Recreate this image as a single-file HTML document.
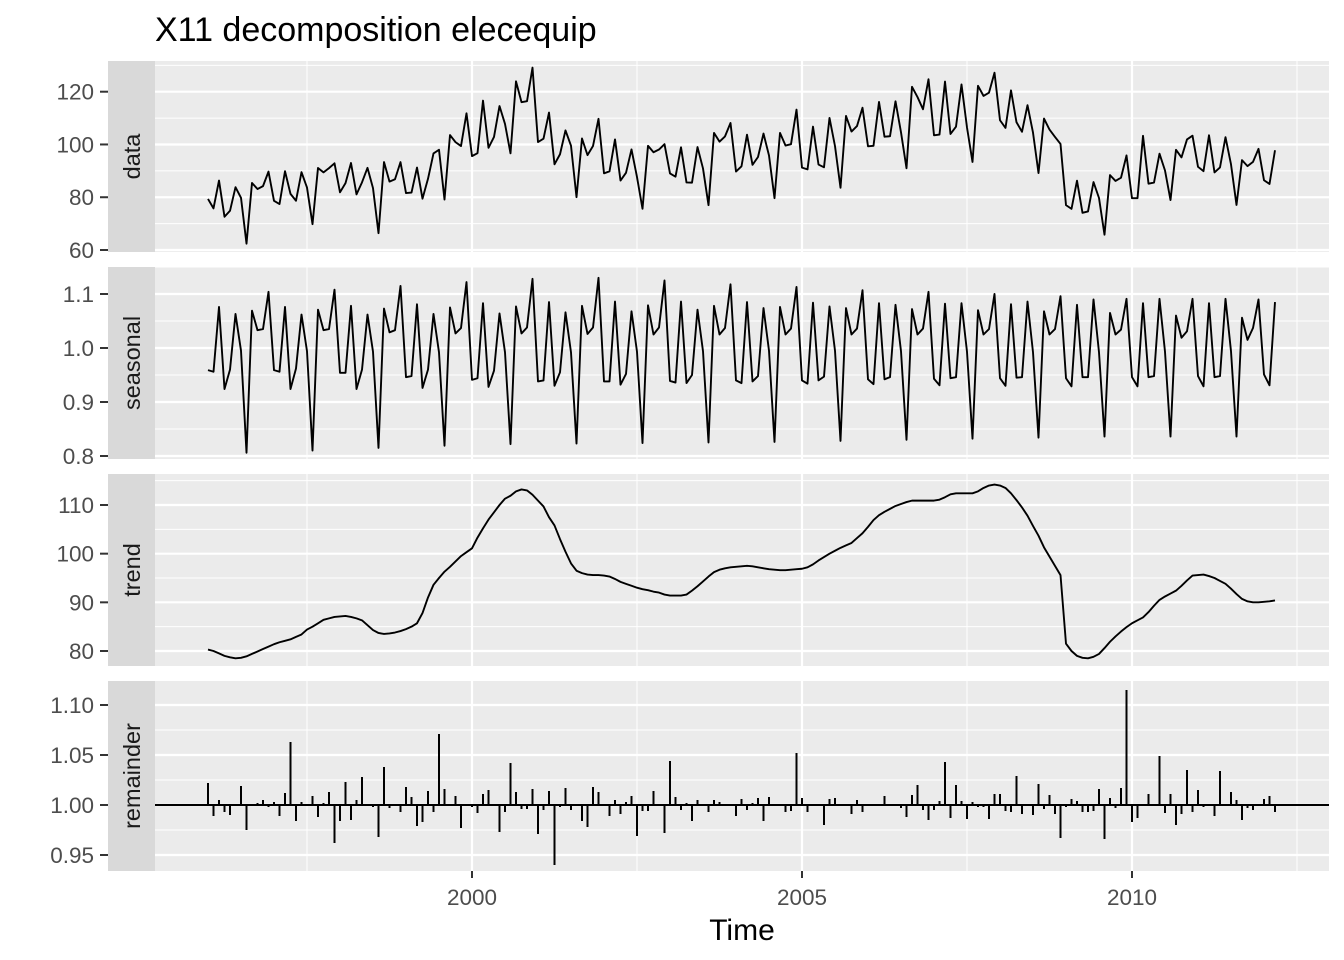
<!DOCTYPE html>
<html><head><meta charset="utf-8"><title>X11 decomposition elecequip</title>
<style>
html,body{margin:0;padding:0;background:#fff;}
svg{display:block;font-family:"Liberation Sans",Arial,sans-serif;}
</style></head>
<body>
<svg id="chart" width="1344" height="960" viewBox="0 0 1344 960" xmlns="http://www.w3.org/2000/svg">
<text x="155" y="41" font-size="34" fill="#000">X11 decomposition elecequip</text>
<text x="742" y="940" font-size="30" fill="#000" text-anchor="middle">Time</text>
</svg>
<script>
const startYear = 1996;
const dataValues = [
79.35,75.78,86.32,72.60,74.86,83.81,79.80,62.41,85.41,83.11,84.21,89.70,
78.64,77.42,89.86,81.27,78.68,89.51,83.67,69.80,91.09,89.43,91.04,92.87,
81.87,85.36,92.98,81.09,85.64,91.14,83.46,66.37,93.34,85.93,86.81,93.30,
81.59,81.77,91.24,79.45,86.99,96.60,97.99,79.13,103.56,100.89,99.40,111.80,
95.59,96.70,116.61,98.75,102.86,114.57,107.79,96.65,123.92,116.03,116.39,129.12,
100.93,102.17,112.08,92.47,96.29,105.33,99.54,80.02,102.26,95.96,99.40,109.73,
89.06,89.82,101.92,86.32,89.25,98.12,87.64,75.64,99.50,97.04,98.09,100.12,
89.02,87.79,98.92,85.60,85.54,99.00,90.91,77.01,104.38,101.07,103.06,108.15,
89.73,91.74,103.70,92.28,95.25,104.13,95.82,79.65,104.38,99.59,100.10,113.20,
91.22,90.55,106.76,92.39,91.35,110.05,99.37,83.60,110.80,104.90,106.98,113.92,
99.32,99.51,116.11,102.93,103.12,116.37,104.61,90.99,121.85,117.97,113.36,124.72,
103.48,103.77,123.83,103.97,106.74,122.73,106.44,93.37,122.23,118.41,119.63,127.19,
109.18,106.28,120.50,108.41,104.82,114.87,104.50,89.18,109.81,105.63,102.86,100.20,
77.00,75.59,86.26,74.08,74.61,85.73,79.71,65.79,88.38,86.18,87.40,95.83,
79.63,79.65,103.29,85.14,85.56,96.50,90.13,78.94,97.99,95.10,101.91,103.32,
91.53,89.89,103.49,89.41,91.31,102.77,92.46,77.08,94.06,91.79,93.40,98.34,
86.44,85.04,97.80];
const seasonalValues = [
.959,.956,1.076,.924,.960,1.063,.995,.806,1.069,1.033,1.035,1.104,
.959,.956,1.076,.924,.962,1.062,.994,.810,1.071,1.033,1.035,1.108,
.954,.954,1.078,.924,.960,1.062,.993,.815,1.073,1.029,1.033,1.115,
.946,.948,1.081,.926,.960,1.063,.992,.819,1.075,1.027,1.037,1.122,
.941,.944,1.083,.928,.958,1.064,.992,.822,1.077,1.027,1.038,1.128,
.938,.940,1.085,.930,.955,1.066,.992,.823,1.078,1.026,1.038,1.130,
.938,.938,1.086,.932,.952,1.068,.993,.824,1.079,1.025,1.038,1.125,
.939,.936,1.086,.935,.950,1.071,.994,.825,1.078,1.025,1.037,1.118,
.940,.935,1.085,.938,.948,1.074,.995,.826,1.076,1.025,1.036,1.113,
.940,.934,1.084,.940,.947,1.077,.995,.828,1.074,1.025,1.036,1.107,
.942,.933,1.083,.942,.946,1.080,.994,.830,1.072,1.025,1.036,1.104,
.943,.931,1.082,.944,.946,1.083,.993,.832,1.070,1.025,1.035,1.100,
.944,.930,1.081,.945,.946,1.086,.992,.834,1.068,1.025,1.035,1.096,
.944,.929,1.080,.946,.946,1.090,.992,.836,1.065,1.025,1.034,1.091,
.946,.929,1.083,.946,.948,1.091,.993,.836,1.060,1.019,1.031,1.091,
.948,.929,1.083,.946,.948,1.091,.994,.836,1.056,1.015,1.037,1.090,
.951,.931,1.085];
const trendValues = [
80.3,80.0,79.5,79.0,78.7,78.5,78.6,78.9,79.4,79.9,80.4,80.9,
81.4,81.8,82.1,82.4,82.9,83.4,84.4,85.0,85.7,86.4,86.7,87.0,
87.1,87.2,87.0,86.7,86.3,85.3,84.3,83.7,83.5,83.6,83.8,84.1,
84.5,85.0,85.7,87.8,91.0,93.6,95.0,96.3,97.3,98.4,99.5,100.3,
101.1,103.3,105.2,107.0,108.5,110.0,111.3,111.9,112.8,113.2,113.0,112.1,
110.9,109.7,107.5,105.8,103.0,100.4,98.0,96.5,96.0,95.7,95.6,95.6,
95.5,95.3,94.8,94.2,93.8,93.4,93.0,92.7,92.5,92.2,92.0,91.6,
91.4,91.4,91.4,91.6,92.4,93.3,94.3,95.3,96.2,96.7,97.0,97.2,
97.3,97.4,97.5,97.4,97.2,97.0,96.8,96.7,96.6,96.6,96.7,96.8,
96.9,97.2,97.8,98.6,99.3,100.0,100.6,101.2,101.7,102.2,103.2,104.2,
105.5,106.9,107.9,108.6,109.2,109.8,110.2,110.6,110.9,110.9,110.9,110.9,
110.9,111.1,111.6,112.2,112.4,112.4,112.4,112.4,112.8,113.5,114.0,114.2,
114.0,113.5,112.4,111.0,109.5,107.8,105.7,103.7,101.3,99.4,97.5,95.6,
81.5,80.0,79.0,78.6,78.5,78.8,79.4,80.6,81.9,83.0,84.0,84.9,
85.7,86.3,86.9,88.0,89.3,90.5,91.2,91.8,92.4,93.4,94.5,95.5,
95.6,95.7,95.4,95.0,94.4,93.8,92.8,91.7,90.7,90.2,90.0,90.0,
90.1,90.2,90.4];
const remainderValues = [
1.022,0.989,1.005,0.993,0.990,1.000,1.019,0.975,1.000,1.002,1.005,0.998,
1.003,0.989,1.012,1.063,0.984,1.003,1.000,1.009,0.988,1.002,1.013,0.962,
0.984,1.023,0.985,1.005,1.028,1.000,0.998,0.968,1.038,0.997,1.000,0.993,
1.018,1.008,0.979,0.983,1.014,0.993,1.071,1.016,1.000,1.009,0.977,1.000,
0.998,0.992,1.011,1.015,1.000,0.973,0.993,1.042,1.013,0.996,0.996,1.016,
0.971,0.995,1.014,0.940,0.998,1.017,0.995,1.000,0.984,0.978,1.018,1.013,
1.000,0.989,1.005,0.991,1.003,1.009,0.969,0.994,0.994,1.014,1.000,0.972,
1.044,1.008,0.995,1.002,0.984,1.005,1.001,0.993,1.005,1.003,1.001,1.000,
0.989,1.006,0.995,1.002,1.007,0.984,1.008,1.000,1.001,0.993,0.994,1.052,
1.007,0.993,1.000,1.000,0.980,1.006,1.007,1.000,1.000,0.991,1.005,0.993,
1.000,1.000,0.999,1.009,1.000,0.999,0.997,0.988,1.010,1.020,0.995,0.985,
0.995,1.004,1.043,0.987,1.020,1.004,0.986,1.003,0.998,0.998,0.986,1.011,
1.011,0.994,0.993,1.029,0.991,1.000,0.990,1.021,0.996,1.010,0.991,0.967,
0.998,1.006,1.004,0.993,0.993,0.994,1.016,0.966,1.007,0.997,1.017,1.115,
0.983,0.987,1.001,1.011,1.000,1.049,0.992,1.011,0.980,0.991,1.035,0.993,
1.015,0.998,1.001,0.989,1.034,1.000,1.013,1.005,0.985,0.997,0.995,1.000,
1.006,1.009,0.993];
const xTickYears = [2000, 2005, 2010];
const xTickLabels = ["2000", "2005", "2010"];
const dataTicks = [60, 80, 100, 120];
const dataTickLabels = ["60", "80", "100", "120"];
const seasonalTicks = [0.8, 0.9, 1.0, 1.1];
const seasonalTickLabels = ["0.8", "0.9", "1.0", "1.1"];
const trendTicks = [80, 90, 100, 110];
const trendTickLabels = ["80", "90", "100", "110"];
const remainderTicks = [0.95, 1.00, 1.05, 1.10];
const remainderTickLabels = ["0.95", "1.00", "1.05", "1.10"];

const NS = "http://www.w3.org/2000/svg";
const svg = document.getElementById("chart");
const PX0 = 155, PX1 = 1329, STRIP0 = 108;
function xScale(t){ return 472 + (t - 2000) * 66; }
function monthTime(i){ return startYear + i / 12; }
function mk(tag, attrs, parent){
  const e = document.createElementNS(NS, tag);
  for (const k in attrs) e.setAttribute(k, attrs[k]);
  (parent || svg).appendChild(e);
  return e;
}
function linScale(v0, y0, v1, y1){ return v => y0 + (v - v0) * (y1 - y0) / (v1 - v0); }

const panels = [
  {key:"data", label:"data", top:61, bottom:252, y:linScale(60,250,120,91.7), ticks:dataTicks, labels:dataTickLabels, minor:[70,90,110,130], values:dataValues, kind:"line"},
  {key:"seasonal", label:"seasonal", top:267, bottom:459, y:linScale(0.8,456,1.1,294), ticks:seasonalTicks, labels:seasonalTickLabels, minor:[0.85,0.95,1.05,1.15], values:seasonalValues, kind:"line"},
  {key:"trend", label:"trend", top:474, bottom:666, y:linScale(80,651,110,505), ticks:trendTicks, labels:trendTickLabels, minor:[85,95,105,115], values:trendValues, kind:"line"},
  {key:"remainder", label:"remainder", top:681, bottom:871, y:linScale(0.95,855,1.10,705), ticks:remainderTicks, labels:remainderTickLabels, minor:[0.925,0.975,1.025,1.075,1.125], values:remainderValues, kind:"bar"}
];
const minorYears = [1997.5, 2002.5, 2007.5, 2012.5];

panels.forEach(p => {
  const g = mk("g", {});
  
  
  const bg = mk("rect", {x:STRIP0, y:p.top, width:PX1-STRIP0, height:p.bottom-p.top, fill:"#EBEBEB"}, g);
  
  
  const inRange = y => y >= p.top && y <= p.bottom;
  p.minor.forEach(v => { const y = p.y(v); if (inRange(y)) {
    const l = mk("line", {x1:STRIP0, x2:PX1, y1:y, y2:y, stroke:"#fff", "stroke-width":1}, g);
    
    
  }});
  minorYears.forEach(t => {
    const l = mk("line", {x1:xScale(t), x2:xScale(t), y1:p.top, y2:p.bottom, stroke:"#fff", "stroke-width":1}, g);
    
    
  });
  p.ticks.forEach((v, i) => {
    const y = p.y(v);
    const l = mk("line", {x1:STRIP0, x2:PX1, y1:y, y2:y, stroke:"#fff", "stroke-width":2.2}, g);
    
    
    const tk = mk("line", {x1:100, x2:STRIP0, y1:y, y2:y, stroke:"#333", "stroke-width":2}, g);
    
    
    const tx = mk("text", {x:94, y:y+8, "font-size":22.5, fill:"#4D4D4D", "text-anchor":"end"}, g);
    tx.textContent = p.labels[i];
    
    
  });
  xTickYears.forEach(t => {
    const l = mk("line", {x1:xScale(t), x2:xScale(t), y1:p.top, y2:p.bottom, stroke:"#fff", "stroke-width":2.2}, g);
    
    
  });
  if (p.kind === "line") {
    const pts = p.values.map((v, i) => xScale(monthTime(i)).toFixed(2) + "," + p.y(v).toFixed(2)).join(" ");
    const pl = mk("polyline", {points:pts, fill:"none", stroke:"#000", "stroke-width":1.9, "stroke-linejoin":"round"}, g);
    
    
  } else {
    const y0 = p.y(1.0);
    p.values.forEach((v, i) => {
      const x = xScale(monthTime(i));
      const b = mk("line", {x1:x, x2:x, y1:y0, y2:p.y(v), stroke:"#000", "stroke-width":2}, g);
      
      
    });
    const base = mk("line", {x1:PX0, x2:PX1, y1:y0, y2:y0, stroke:"#000", "stroke-width":2}, g);
    
    
  }
  const strip = mk("rect", {x:STRIP0, y:p.top, width:PX0-STRIP0, height:p.bottom-p.top, fill:"#D9D9D9"}, g);
  
  
  const cy = (p.top + p.bottom) / 2;
  const st = mk("text", {x:0, y:0, "font-size":23.5, fill:"#1A1A1A", "text-anchor":"middle", transform:"translate(140," + cy + ") rotate(-90)"}, g);
  st.textContent = p.label;
  
  
});

xTickYears.forEach((t, i) => {
  const x = xScale(t);
  const tk = mk("line", {x1:x, x2:x, y1:871, y2:878, stroke:"#333", "stroke-width":2});
  
  
  const tx = mk("text", {x:x, y:905, "font-size":22.5, fill:"#4D4D4D", "text-anchor":"middle"});
  tx.textContent = xTickLabels[i];
  
  
});
</script>
</body></html>
